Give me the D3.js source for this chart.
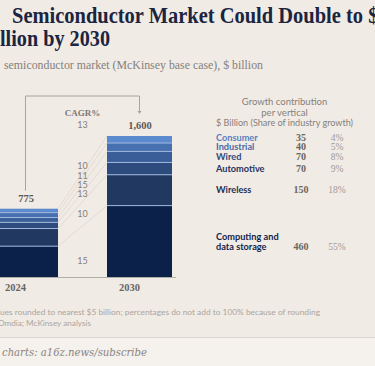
<!DOCTYPE html>
<html><head><meta charset="utf-8">
<script src="https://cdn.jsdelivr.net/npm/d3@7"></script>
<style>
html,body{margin:0;padding:0;background:#f1ebe5;overflow:hidden}
svg{display:block}
</style></head><body>
<svg id="c" width="375" height="366"></svg>
<script>
// ---- data ----
const years = ["2024", "2030"];
const categories = ["Computing and data storage", "Wireless", "Automotive", "Wired", "Industrial", "Consumer"];
const values2024 = [350, 200, 70, 55, 55, 45];
const values2030 = [810, 350, 140, 125, 95, 80];
const totals = [775, 1600];
const cagr = [15, 10, 13, 15, 11, 10];
const totalCagr = 13;
const growth = [460, 150, 70, 70, 40, 35];
const share = ["55%", "18%", "9%", "8%", "5%", "4%"];

// ---- styles ----
const colors = ["#0c2149", "#213961", "#2d4c7d", "#3a5f98", "#4770b0", "#5b8acf"];
const labelColors = ["#13244a", "#1d2f55", "#1f3260", "#2f4a7c", "#4a6aa8", "#5a7fc0"];

const svg = d3.select("#c");

function txt(x, y, s, o) {
  const t = svg.append("text").attr("x", x).attr("y", y).text(s);
  for (const k in o) t.attr(k, o[k]);
  return t;
}
// title
const titleStyle = {"font-family": "Liberation Serif, serif", "font-weight": 700, "font-size": 23, fill: "#1b2440"};
txt(12, 23, "Semiconductor Market Could Double to $1.6", titleStyle)
  .attr("textLength", 392).attr("lengthAdjust", "spacingAndGlyphs");
txt(0, 46, "Tri", Object.assign({"text-anchor": "end"}, titleStyle));
txt(0, 46, "llion by 2030", titleStyle).attr("textLength", 110).attr("lengthAdjust", "spacingAndGlyphs");

const subStyle = {"font-family": "Liberation Serif, serif", "font-size": 11.5, fill: "#857f7a"};
txt(-4, 69, "Global", Object.assign({"text-anchor": "end"}, subStyle));
txt(4, 69, "semiconductor market (McKinsey base case), $ billion", subStyle)
  .attr("textLength", 259).attr("lengthAdjust", "spacingAndGlyphs");

// ---- scales ----
const x = d3.scaleBand().domain(years).range([-7, 172]).paddingInner(49 / 114).paddingOuter(0);
const y = d3.scaleLinear().domain([0, 1600]).range([277, 136]);

const rows = years.map((yr, i) => {
  const r = {year: yr};
  categories.forEach((c, j) => r[c] = (i === 0 ? values2024 : values2030)[j]);
  return r;
});
const series = d3.stack().keys(categories)(rows);

// connector lines between segment tops
const gC = svg.append("g");
series.forEach(s => {
  gC.append("line")
    .attr("x1", x("2024") + x.bandwidth()).attr("y1", y(s[0][1]))
    .attr("x2", x("2030")).attr("y2", y(s[1][1]))
    .attr("stroke", "#e0d7cd").attr("stroke-width", 0.8);
});

// axis line
svg.append("line").attr("x1", 0).attr("x2", 176).attr("y1", y(0) + 0.5).attr("y2", y(0) + 0.5)
  .attr("stroke", "#b3ada7").attr("stroke-width", 1);

// bars
series.forEach((s, j) => {
  svg.append("g").selectAll("rect").data(s).join("rect")
    .attr("x", d => x(d.data.year))
    .attr("width", x.bandwidth())
    .attr("y", d => y(d[1]))
    .attr("height", d => y(d[0]) - y(d[1]))
    .attr("fill", colors[j]);
});
// separators
series.slice(0, -1).forEach(s => {
  svg.append("g").selectAll("line").data(s).join("line")
    .attr("x1", d => x(d.data.year)).attr("x2", d => x(d.data.year) + x.bandwidth())
    .attr("y1", d => y(d[1])).attr("y2", d => y(d[1]))
    .attr("stroke", "#9fb6dc").attr("stroke-width", 1);
});

// totals
const numStyle = {"font-family": "Liberation Serif, serif", "font-weight": 700, "font-size": 10.5, fill: "#5e5955", "text-anchor": "middle"};
years.forEach((yr, i) => {
  txt(x(yr) + x.bandwidth() / 2 + 0.5, y(totals[i]) - 7, d3.format(",")(totals[i]), numStyle);
});

// bracket
const bx1 = x("2024") + x.bandwidth() / 2, bx2 = x("2030") + x.bandwidth() / 2;
svg.append("path")
  .attr("d", `M${bx1},${y(totals[0]) - 18}V96H${bx2}V112`)
  .attr("fill", "none").attr("stroke", "#aaa49e").attr("stroke-width", 1);
svg.append("path").attr("d", `M${bx2 - 2},111L${bx2 + 2},111L${bx2},114Z`).attr("fill", "#aaa49e");

// year labels
const yearStyle = {"font-family": "Liberation Serif, serif", "font-weight": 700, "font-size": 10.5, fill: "#6a6560", "text-anchor": "middle"};
years.forEach(yr => txt(x(yr) + x.bandwidth() / 2 - 10, 291, yr, yearStyle));

// CAGR column
const cx = (x("2024") + x.bandwidth() + x("2030")) / 2;
txt(cx, 116, "CAGR%", {"font-family": "Liberation Serif, serif", "font-weight": 700, "font-size": 9, fill: "#7d7873", "text-anchor": "middle"});
const cagrStyle = {"font-family": "Lato, sans-serif", "font-size": 9, fill: "#85807b", "text-anchor": "middle"};
txt(cx, 127.5, totalCagr, cagrStyle);
const mids = series.map(s => ((y(s[0][0]) + y(s[0][1])) / 2 + (y(s[1][0]) + y(s[1][1])) / 2) / 2);
const ly = [];
mids.forEach((m, j) => { ly[j] = j < 2 ? m : Math.min(m - 3, ly[j - 1] - 9.3); });
ly[0] = mids[0] + 9;
cagr.forEach((v, j) => txt(cx, ly[j] + 3.3, v, cagrStyle));

// right table
const hStyle = {"font-family": "Lato, sans-serif", "font-size": 9.5, fill: "#85807b", "text-anchor": "middle"};
txt(284.5, 105, "Growth contribution", hStyle);
txt(284.5, 115.5, "per vertical", hStyle);
txt(284.5, 126, "$ Billion (Share of industry growth)", hStyle).attr("textLength", 137).attr("lengthAdjust", "spacingAndGlyphs");

const centers = series.map(s => (y(s[1][0]) + y(s[1][1])) / 2);
const ry = [];
centers.forEach((c, j) => { ry[j] = j < 2 ? c : Math.min(c, ry[j - 1] - 9.6); });
series.forEach((s, j) => {
  const cy = ry[j] + 3;
  const lab = {"font-family": "Lato, sans-serif", "font-weight": 700, "font-size": 9.2, fill: labelColors[j]};
  let vy = cy;
  if (j === 0) {
    txt(216, cy - 4, "Computing and", lab);
    txt(216, cy + 5.5, "data storage", lab);
    vy = cy + 5.5;
  } else {
    txt(216, cy, categories[j], lab);
  }
  txt(301, vy, growth[j], {"font-family": "Liberation Serif, serif", "font-weight": 700, "font-size": 10, fill: "#6a6560", "text-anchor": "middle"});
  txt(337, vy, share[j], {"font-family": "Liberation Serif, serif", "font-size": 9.5, fill: "#a09a95", "text-anchor": "middle"});
});

// footnotes
const fStyle = {"font-family": "Lato, sans-serif", "font-size": 8.2, fill: "#aba5a0"};
txt(-1, 315, "Note: Val", Object.assign({"text-anchor": "end"}, fStyle));
txt(0, 315, "ues rounded to nearest $5 billion; percentages do not add to 100% because of rounding", fStyle)
  .attr("textLength", 320).attr("lengthAdjust", "spacingAndGlyphs");
txt(-4, 326, "Source:", Object.assign({"text-anchor": "end"}, fStyle));
txt(-2, 326, "Omdia; McKinsey analysis", fStyle);

// bottom band
svg.append("rect").attr("x", 0).attr("y", 337).attr("width", 375).attr("height", 29).attr("fill", "#f5f1ec");
svg.append("line").attr("x1", 0).attr("x2", 375).attr("y1", 337.5).attr("y2", 337.5).attr("stroke", "#ddd6cf");
const cStyle = {"font-family": "DejaVu Serif, serif", "font-style": "italic", "font-size": 10.5, fill: "#8a847f"};
txt(-4, 356, "Get more", Object.assign({"text-anchor": "end"}, cStyle));
txt(2, 356, "charts: a16z.news/subscribe", cStyle).attr("textLength", 145).attr("lengthAdjust", "spacingAndGlyphs");
</script>
</body></html>
